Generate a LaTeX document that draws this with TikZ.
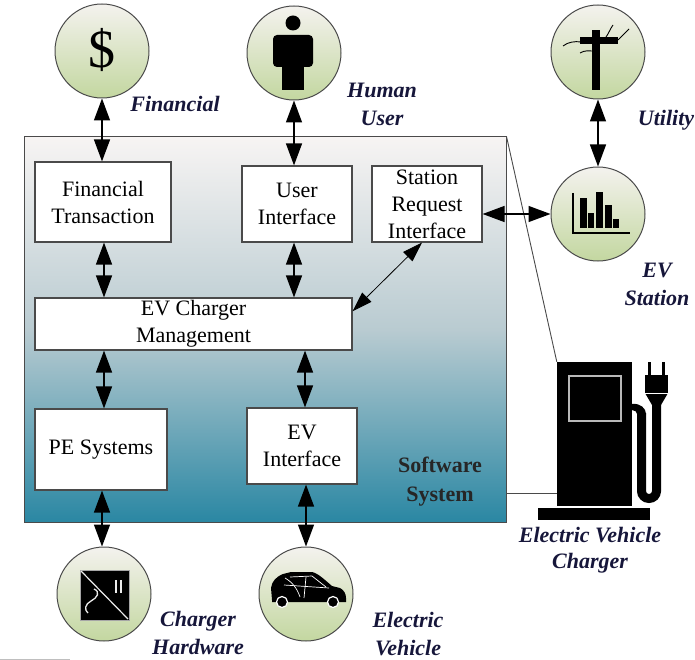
\documentclass[tikz,border=0pt]{standalone}
\usepackage{fontspec}
\setmainfont{Liberation Serif}
\usetikzlibrary{arrows.meta,calc}

\definecolor{edgegray}{HTML}{4A4A4A}
\definecolor{labelnavy}{HTML}{16163A}
\definecolor{swtop}{HTML}{F7F4F3}
\definecolor{swmid}{HTML}{B9CBD1}
\definecolor{swbot}{HTML}{2A87A3}
\definecolor{orbtop}{HTML}{F4F2EE}
\definecolor{orbbot}{HTML}{C3D7A0}

\tikzset{
  swbox/.style={draw=edgegray, line width=1pt, top color=swtop, bottom color=swbot,
    middle color=swmid, minimum width=482pt, minimum height=385pt, inner sep=0pt},
  block/.style={draw=edgegray, line width=1.2pt, fill=white, align=center,
    font=\fontsize{22}{27}\selectfont, inner sep=0pt},
  orb/.style={circle, draw=edgegray, line width=1pt, top color=orbtop,
    bottom color=orbbot, minimum size=94pt, inner sep=0pt},
  tag/.style={font=\fontsize{22}{28}\selectfont\bfseries\itshape, text=labelnavy,
    align=center, inner sep=0pt},
  dbl/.style={{Triangle[length=22pt,width=16pt]}-{Triangle[length=22pt,width=16pt]},
    line width=1.4pt, draw=black},
  dblthin/.style={{Triangle[length=20pt,width=13pt]}-{Triangle[length=20pt,width=13pt]},
    line width=0.8pt, draw=black},
  wire/.style={draw=edgegray, line width=0.9pt},
}

\begin{document}
\begin{tikzpicture}[x=1pt,y=-1pt]
\useasboundingbox (0,0) rectangle (695,660);

% software system frame
\node[swbox] (sw) at (265,329.5) {};
\node[font=\fontsize{22}{29}\selectfont\bfseries, text=black!85, align=center] (swl) at (440,482) {Software\\System};

% software blocks
\node[block, minimum width=136pt, minimum height=80pt] (ft) at (103,202) {Financial\\Transaction};
\node[block, minimum width=110pt, minimum height=76pt] (ui) at (297,204) {User\\Interface};
\node[block, minimum width=110pt, minimum height=76pt] (sri) at (427,204) {Station\\Request\\Interface};
\node[block, minimum width=317pt, minimum height=52pt] (ecm) at (193.5,324) {EV Charger\\Management};
\node[block, minimum width=132pt, minimum height=81pt] (pe) at (101,449.5) {PE Systems};
\node[block, minimum width=110pt, minimum height=76pt] (evi) at (302,446) {EV\\Interface};

% external actors
\node[orb] (fin) at (102,51) {};
\node[orb] (hu) at (294,53) {};
\node[orb] (ut) at (598,52) {};
\node[orb] (evs) at (598,214) {};
\node[orb] (ch) at (104,594) {};
\node[orb] (ev) at (306,594) {};

% dollar sign
\node[font=\fontsize{54}{54}\selectfont, inner sep=0pt] (dollar) at (102,50) {\$};

% person
\fill (293,23) circle (7.5);
\fill[rounded corners=4pt] (273,67) -- (273,35) -- (313,35) -- (313,67) -- cycle;
\fill (282,66) rectangle (304,90);

% utility pole
\fill (592,30) rectangle (600,90);
\fill (580,37) rectangle (618,44);
\draw[line width=0.9pt] (563,46) .. controls (568,42) and (575,41) .. (581,42);
\draw[line width=0.9pt] (580,53) .. controls (585,50) and (589,51) .. (592,51);
\draw[line width=0.9pt] (606,37) .. controls (609,33) and (610,29) .. (613,25);
\draw[line width=0.9pt] (618,40) .. controls (622,36) and (626,32) .. (629,29);

% bar chart
\draw[line width=1.2pt] (573,193) -- (573,233) -- (630,233);
\fill (580,198) rectangle (587,228);
\fill (588,213) rectangle (594,228);
\fill (596,192) rectangle (603,228);
\fill (605,205) rectangle (612,228);
\fill (613,219) rectangle (619,228);

% power converter
\fill[draw=gray!70, line width=0.8pt] (80,570) rectangle (129,620);
\draw[white!85!gray, line width=1.2pt] (81,571) -- (128,619);
\draw[white!85!gray, line width=2pt] (116,580) -- (116,593);
\draw[white!85!gray, line width=2pt] (121,580) -- (121,593);
\draw[white!85!gray, line width=1.3pt] (94,589) .. controls (101,592) and (97,598) .. (91,601)
  .. controls (85,604) and (84,610) .. (88,613);

% car
\fill (272,600) -- (271,588) .. controls (272,581) and (276,577) .. (283,574)
  -- (291,572) -- (312,572) .. controls (318,573) and (326,581) .. (332,586)
  -- (340,588) .. controls (344,590) and (346,594) .. (346,598) -- (346,602) -- (272,602) -- cycle;
\draw[white, line width=0.7pt] (284,585) -- (329,588);
\draw[white, line width=0.7pt] (290,577) -- (312,576) -- (326,587);
\draw[white, line width=0.7pt] (306,577) -- (304,598);
\draw[white, line width=0.7pt] (285,578) .. controls (292,582) and (297,588) .. (300,597);
\fill[draw=white, line width=1.2pt] (282,602) circle (5.5);
\fill[draw=white, line width=1.2pt] (333,602) circle (5.5);

% charging station
\node[fill=black, minimum width=75pt, minimum height=144pt, inner sep=0pt] (chg) at (594.5,434) {};
\fill[draw=gray!55, line width=1.2pt] (569,376) rectangle (621,421);
\fill (538,508) rectangle (650,520);
\fill (632,404) .. controls (640,403) and (646,408) .. (646,414) -- (637,414)
  .. controls (637,412) and (635,410) .. (632,410) -- cycle;
\draw[line width=9pt] (641.5,413) -- (641.5,491) arc (180:0:7.5) -- (656.5,404);
\fill (645,375) rectangle (668,393);
\fill (645,393) -- (668,393) -- (661,405) -- (652,405) -- cycle;
\draw[white, line width=0.6pt] (645,393) -- (668,393);
\fill (648,362) rectangle (651,375);
\fill (662,362) rectangle (665,375);

% leader lines to the charger
\coordinate (swr) at (506,493);
\draw[wire] (sw.north east) -- (chg.north west);
\draw[wire] (swr) -- (swr -| chg.west);

% data links
\draw[dbl] (fin.south) -- (fin.south |- ft.north);
\draw[dbl] (hu.south) -- (hu.south |- ui.north);
\draw[dbl] ([xshift=1pt]ft.south) -- ([xshift=1pt]ft.south |- ecm.north);
\draw[dbl] (hu.south |- ui.south) -- (hu.south |- ecm.north);
\draw[dbl] ([xshift=1pt]ft.south |- ecm.south) -- ([xshift=1pt]ft.south |- pe.north);
\draw[dbl] ([xshift=3pt]evi.north |- ecm.south) -- ([xshift=3pt]evi.north);
\draw[dbl] ([xshift=-2pt]ch.north |- pe.south) -- ([xshift=-2pt]ch.north);
\draw[dbl] (ev.north |- evi.south) -- (ev.north);
\draw[dbl] (ut.south) -- (evs.north);
\draw[dbl] (sri.east |- evs.west) -- (evs.west);
\draw[dblthin] ([xshift=-5pt]sri.south) -- ($(ecm.north east)!0.26!(ecm.south east)$);

% actor labels
\node[tag] (lfin) at (175,104) {Financial};
\node[tag] (lhu) at (382,104) {Human\\User};
\node[tag] (lut) at (666,120) {Utility};
\node[tag] (levs) at (657,284) {EV\\Station};
\node[tag] (lch) at (198,633) {Charger\\Hardware};
\node[tag] (lev) at (408,634) {Electric\\Vehicle};
\node[tag, font=\fontsize{22}{26}\selectfont\bfseries\itshape] (lchg) at (590,550) {Electric Vehicle\\Charger};

% short rule at the lower left
\draw[gray!50, line width=0.8pt] (0,659) -- (70,659);
\end{tikzpicture}
\end{document}
